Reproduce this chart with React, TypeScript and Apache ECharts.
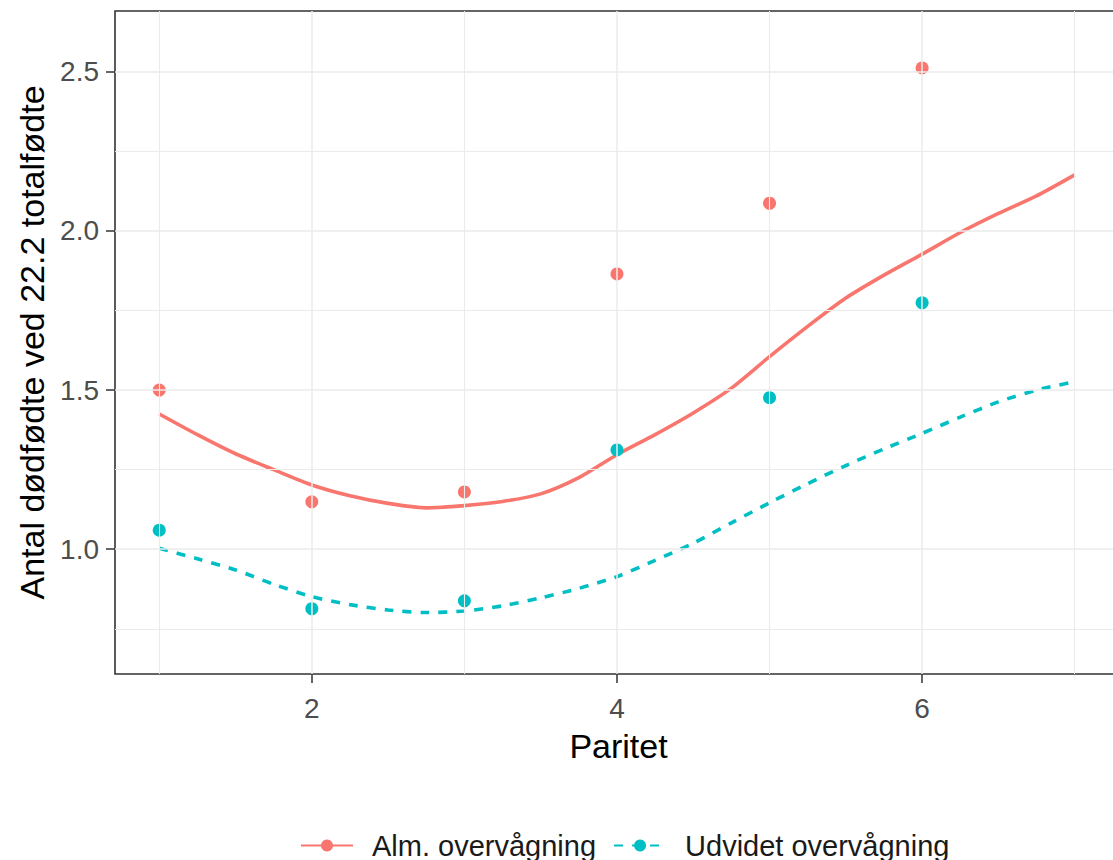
import React, { useEffect, useRef } from "react";
import * as echarts from "echarts";

// Observed stillbirth counts per parity
const parity: number[] = [1, 2, 3, 4, 5, 6];
const almValues: number[] = [1.5, 1.149, 1.18, 1.865, 2.087, 2.512];
const udvValues: number[] = [1.06, 0.813, 0.838, 1.312, 1.476, 1.774];

// Smoothed trend (loess-like) sampled along parity
const smoothX: number[] = [1, 1.25, 1.5, 1.75, 2, 2.25, 2.5, 2.75, 3, 3.25, 3.5, 3.75, 4, 4.25, 4.5, 4.75, 5, 5.25, 5.5, 5.75, 6, 6.25, 6.5, 6.75, 7];
const almSmooth: number[] = [1.425, 1.36, 1.3, 1.25, 1.202, 1.168, 1.144, 1.13, 1.137, 1.15, 1.174, 1.225, 1.297, 1.36, 1.428, 1.506, 1.605, 1.7, 1.789, 1.861, 1.927, 1.995, 2.055, 2.11, 2.176];
const udvSmooth: number[] = [1.003, 0.97, 0.935, 0.89, 0.851, 0.826, 0.809, 0.801, 0.806, 0.822, 0.847, 0.877, 0.914, 0.965, 1.019, 1.083, 1.146, 1.206, 1.263, 1.315, 1.364, 1.415, 1.463, 1.5, 1.526];

// Axis breaks
const xTicks: number[] = [2, 4, 6];
const xMinor: number[] = [1, 3, 5, 7];
const yTicks: number[] = [1.0, 1.5, 2.0, 2.5];
const yMinor: number[] = [0.75, 1.25, 1.75, 2.25];

const seriesNames: string[] = ["Alm. overvågning", "Udvidet overvågning"];
const RED = "#F8766D";
const TEAL = "#00BFC4";
const FONT = "Liberation Sans, Arial, sans-serif";

export default function App() {
  const ref = useRef<HTMLDivElement>(null);

  useEffect(() => {
    document.body.style.margin = "0";
    document.body.style.overflow = "hidden";
    if (!ref.current) return;
    const chart = echarts.init(ref.current, undefined, { renderer: "svg" });

    const pairs = (xs: number[], ys: number[]) => xs.map((x, i) => [x, ys[i]]);
    const gridLine = (w: number) => ({ type: "solid", color: "#EBEBEB", width: w });

    const gridMarks = [
      ...xMinor.map((v) => ({ xAxis: v, lineStyle: gridLine(1.1) })),
      ...xTicks.map((v) => ({ xAxis: v, lineStyle: gridLine(1.5) })),
      ...yMinor.map((v) => ({ yAxis: v, lineStyle: gridLine(1.1) })),
      ...yTicks.map((v) => ({ yAxis: v, lineStyle: gridLine(1.5) })),
    ];

    chart.setOption({
      animation: false,
      backgroundColor: "#ffffff",
      textStyle: { fontFamily: FONT },
      grid: {
        left: 115,
        top: 11,
        right: 0,
        bottom: 186,
        show: true,
        borderColor: "#333333",
        borderWidth: 1.6,
        backgroundColor: "transparent",
      },
      legend: {
        data: seriesNames,
        left: 295,
        top: 826,
        itemWidth: 52,
        itemHeight: 15,
        itemGap: 17,
        textStyle: { fontSize: 29, color: "#1a1a1a", fontFamily: FONT, padding: [0, 0, 0, 14] },
      },
      xAxis: {
        type: "value",
        min: 0.71,
        max: 7.31,
        name: "Paritet",
        nameLocation: "middle",
        nameGap: 55,
        nameTextStyle: { fontSize: 34, color: "#000000", fontFamily: FONT, verticalAlign: "top" },
        axisLine: { show: false },
        axisTick: { show: true, length: 9, customValues: xTicks, lineStyle: { color: "#333333", width: 1.5 } },
        axisLabel: {
          customValues: xTicks,
          margin: 20,
          fontSize: 28,
          color: "#4D4D4D",
          fontFamily: FONT,
          verticalAlign: "top",
        },
        splitLine: { show: false },
      },
      yAxis: {
        type: "value",
        min: 0.608,
        max: 2.691,
        name: "Antal dødfødte ved 22.2 totalfødte",
        nameLocation: "middle",
        nameGap: 62,
        nameTextStyle: { fontSize: 34, color: "#000000", fontFamily: FONT },
        axisLine: { show: false },
        axisTick: { show: true, length: 9, customValues: yTicks, lineStyle: { color: "#333333", width: 1.5 } },
        axisLabel: {
          customValues: yTicks,
          margin: 16,
          fontSize: 28,
          color: "#4D4D4D",
          fontFamily: FONT,
          formatter: (v: number) => v.toFixed(1),
        },
        splitLine: { show: false },
      },
      series: [
        {
          name: "gridlines",
          type: "line",
          data: [[0.71, 0.608]],
          symbol: "none",
          lineStyle: { opacity: 0 },
          silent: true,
          z: 0,
          markLine: {
            silent: true,
            symbol: ["none", "none"],
            label: { show: false },
            data: gridMarks,
          },
        },
        {
          name: seriesNames[0],
          type: "line",
          data: pairs(smoothX, almSmooth),
          smooth: 0.25,
          symbol: "circle",
          showSymbol: false,
          itemStyle: { color: RED },
          lineStyle: { color: RED, width: 3.6 },
          z: 3,
        },
        {
          name: seriesNames[1],
          type: "line",
          data: pairs(smoothX, udvSmooth),
          smooth: 0.25,
          symbol: "circle",
          showSymbol: false,
          itemStyle: { color: TEAL },
          lineStyle: { color: TEAL, width: 3.6, type: [9, 9] },
          z: 3,
        },
        {
          name: seriesNames[0],
          type: "scatter",
          data: pairs(parity, almValues),
          symbol: "circle",
          symbolSize: 13,
          itemStyle: { color: RED, opacity: 1 },
          z: 4,
        },
        {
          name: seriesNames[1],
          type: "scatter",
          data: pairs(parity, udvValues),
          symbol: "circle",
          symbolSize: 13,
          itemStyle: { color: TEAL, opacity: 1 },
          z: 4,
        },
      ],
    });

    return () => chart.dispose();
  }, []);

  return <div ref={ref} style={{ width: 1122, height: 860 }} />;
}
